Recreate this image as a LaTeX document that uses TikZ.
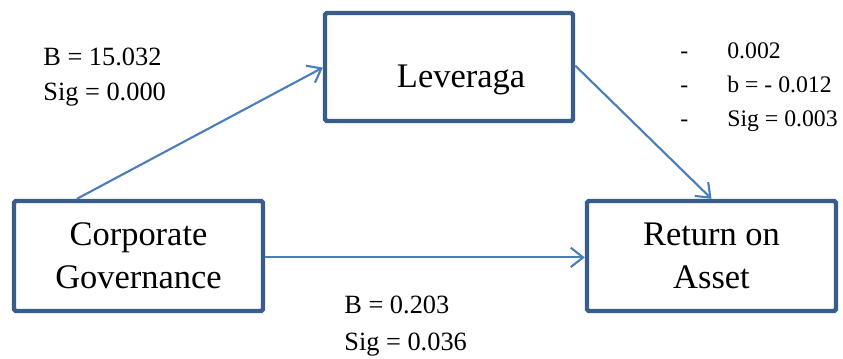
\documentclass[tikz,border=0pt]{standalone}
\usepackage{fontspec}
\setmainfont{Liberation Serif}
\usetikzlibrary{arrows.meta,calc}
\definecolor{boxblue}{RGB}{56,93,138}
\definecolor{lineblue}{RGB}{74,126,187}
\tikzset{
  varbox/.style={draw=boxblue, line width=2.5pt, rounded corners=1pt, inner sep=0pt,
    minimum width=4.98cm, minimum height=2.2cm, align=center,
    font=\fontsize{19.6}{24.5}\selectfont},
  path/.style={draw=lineblue, line width=1.2pt, -{Straight Barb[length=7pt,width=11pt]}},
  coef/.style={anchor=base west, inner sep=0pt, font=\fontsize{15}{20}\selectfont},
  sub/.style={anchor=base west, inner sep=0pt, font=\fontsize{13.5}{18}\selectfont}
}
\begin{document}
\begin{tikzpicture}[scale=0.2]
\useasboundingbox (00,00) rectangle (84.3,35.8);
% variables
\node[varbox] (cg)  at (13.85,10.2) {Corporate\\Governance};
\node[varbox] (roa) at (71.15,10.2) {Return on\\Asset};
\node[varbox, minimum width=4.96cm, minimum height=2.16cm] (lev) at (44.9,29.1) {};
\node[anchor=base, inner sep=0pt, font=\fontsize{19.6}{24.5}\selectfont] (levtext) at (46.1,27.1) {Leveraga};
% paths
\draw[path] ($(cg.north west)!0.257!(cg.north east)$) -- ([yshift=-0.06cm]lev.west);
\draw[path] ([yshift=0.14cm]lev.east) -- (roa.north);
\draw[path] ([yshift=-0.14cm]cg.east) -- ([yshift=-0.14cm]roa.west);
% coefficients
\node[coef] (b1) at (4.3,29.3) {B = 15.032};
\node[coef] (s1) at (4.3,25.8) {Sig = 0.000};
\node[coef] (b3) at (34.4,4.5) {B = 0.203};
\node[coef] (s3) at (34.4,0.8) {Sig = 0.036};
\node[sub] (d1) at (68.0,30.0) {-};
\node[sub] (d2) at (68.0,26.6) {-};
\node[sub] (d3) at (68.0,23.2) {-};
\node[sub] (r2) at (72.7,30.0) {0.002};
\node[sub] (b2) at (72.7,26.6) {b = - 0.012};
\node[sub] (s2) at (72.7,23.2) {Sig = 0.003};
\end{tikzpicture}
\end{document}
